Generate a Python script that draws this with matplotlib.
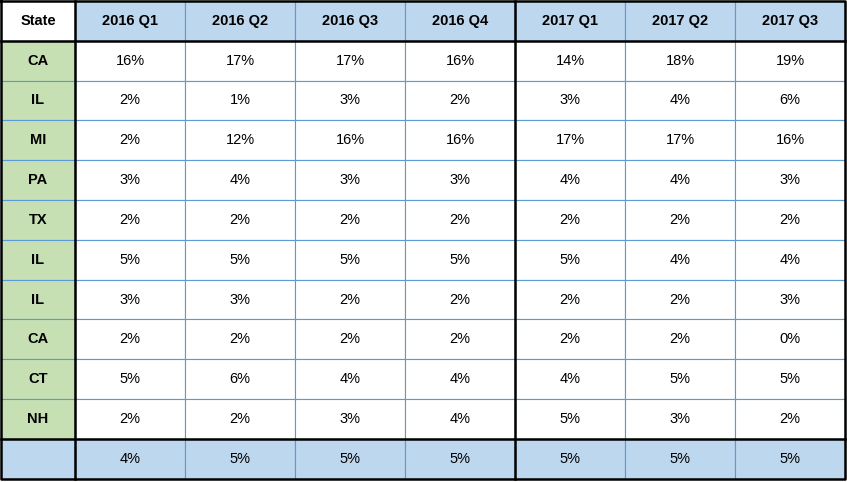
import matplotlib
matplotlib.use('Agg')
import matplotlib.pyplot as plt
from matplotlib.patches import Rectangle

# ===== data =====
columns = ['2016 Q1', '2016 Q2', '2016 Q3', '2016 Q4', '2017 Q1', '2017 Q2', '2017 Q3']
states = ['CA', 'IL', 'MI', 'PA', 'TX', 'IL', 'IL', 'CA', 'CT', 'NH']
values = [
    [16, 17, 17, 16, 14, 18, 19],
    [2, 1, 3, 2, 3, 4, 6],
    [2, 12, 16, 16, 17, 17, 16],
    [3, 4, 3, 3, 4, 4, 3],
    [2, 2, 2, 2, 2, 2, 2],
    [5, 5, 5, 5, 5, 4, 4],
    [3, 3, 2, 2, 2, 2, 3],
    [2, 2, 2, 2, 2, 2, 0],
    [5, 6, 4, 4, 4, 5, 5],
    [2, 2, 3, 4, 5, 3, 2],
]
totals = [4, 5, 5, 5, 5, 5, 5]

# ===== layout =====
W, H = 847, 482
x0, y0 = 1, 1
first_w, col_w, row_h = 74, 110, 39.8
blue = '#BDD7EE'
green = '#C6E0B4'
grid = '#5B9BD5'

plt.rcParams['font.family'] = ['Liberation Sans', 'DejaVu Sans']
fig = plt.figure(figsize=(W / 100, H / 100), dpi=100)
ax = fig.add_axes([0, 0, 1, 1])
ax.set_xlim(0, W)
ax.set_ylim(H, 0)
ax.axis('off')

xs = [x0, x0 + first_w] + [x0 + first_w + col_w * (i + 1) for i in range(len(columns))]
n_rows = len(states) + 2
ys = [y0 + row_h * i for i in range(n_rows + 1)]


def cell(r, c, text, face, bold=False):
    ax.add_patch(Rectangle((xs[c], ys[r]), xs[c + 1] - xs[c], ys[r + 1] - ys[r],
                           facecolor=face, edgecolor=grid, linewidth=0.8))
    ax.text((xs[c] + xs[c + 1]) / 2, (ys[r] + ys[r + 1]) / 2, text,
            ha='center', va='center', fontsize=10.5,
            fontweight='bold' if bold else 'normal', color='black')


cell(0, 0, 'State', 'white', bold=True)
for j, col in enumerate(columns):
    cell(0, j + 1, col, blue, bold=True)
for i, st in enumerate(states):
    cell(i + 1, 0, st, green, bold=True)
    for j, v in enumerate(values[i]):
        cell(i + 1, j + 1, f'{v}%', 'white')
cell(n_rows - 1, 0, '', blue)
for j, v in enumerate(totals):
    cell(n_rows - 1, j + 1, f'{v}%', blue)

# thick borders
lw = 1.8
ax.plot([xs[0], xs[-1], xs[-1], xs[0], xs[0]], [ys[0], ys[0], ys[-1], ys[-1], ys[0]],
        color='black', linewidth=lw)
ax.plot([xs[1], xs[1]], [ys[0], ys[-1]], color='black', linewidth=lw)
ax.plot([xs[5], xs[5]], [ys[0], ys[-1]], color='black', linewidth=lw)
ax.plot([xs[0], xs[-1]], [ys[1], ys[1]], color='black', linewidth=lw)
ax.plot([xs[0], xs[-1]], [ys[-2], ys[-2]], color='black', linewidth=lw)

fig.savefig('out.png', dpi=100, facecolor='white')
